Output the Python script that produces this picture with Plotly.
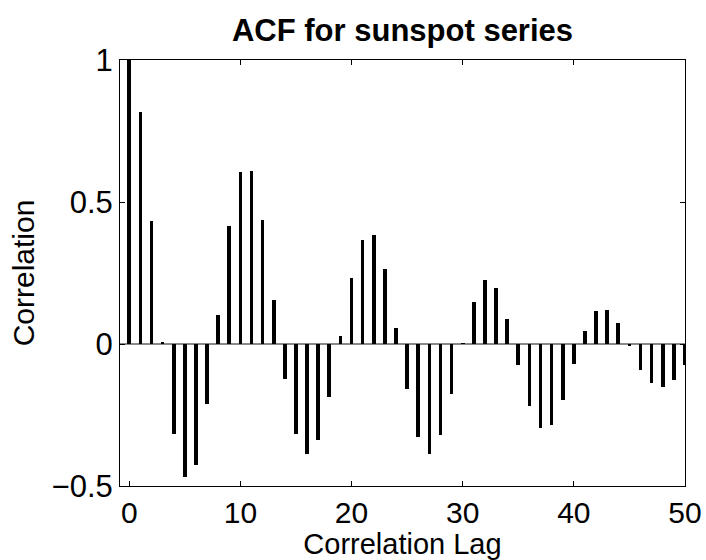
import plotly.graph_objects as go

lags = list(range(51))
acf = [1.0, 0.816, 0.432, 0.006, -0.317, -0.470, -0.427, -0.213, 0.102, 0.417,
       0.607, 0.609, 0.436, 0.155, -0.122, -0.318, -0.388, -0.338, -0.185, 0.028,
       0.232, 0.367, 0.384, 0.265, 0.055, -0.160, -0.327, -0.386, -0.320, -0.175,
       0.002, 0.149, 0.224, 0.198, 0.087, -0.073, -0.220, -0.296, -0.285, -0.196,
       -0.070, 0.046, 0.115, 0.121, 0.073, -0.008, -0.091, -0.137, -0.151, -0.127,
       -0.075]
x_ticks = [0, 10, 20, 30, 40, 50]
y_ticks = [-0.5, 0, 0.5, 1]
y_ticklabels = ["\u22120.5", "0", "0.5", "1"]

FONT = "Liberation Sans, Arial, Helvetica, sans-serif"

fig = go.Figure()
fig.add_trace(go.Bar(x=lags, y=acf, width=0.33, marker=dict(color="black", line=dict(width=0)),
                     showlegend=False, hoverinfo="x+y"))

fig.update_layout(
    width=706, height=560,
    margin=dict(l=120, r=21, t=60, b=74, pad=0),
    paper_bgcolor="white", plot_bgcolor="white",
    font=dict(family=FONT, size=30, color="black"),
    title=dict(text="<b>ACF for sunspot series</b>", x=(120 + 685) / 2 / 706, xanchor="center",
               y=1 - 30 / 560, yanchor="middle", yref="container",
               font=dict(family=FONT, size=31, color="black")),
    bargap=0,
)
fig.update_xaxes(
    range=[-0.83, 50], tickvals=x_ticks, ticks="inside", ticklen=5, tickwidth=1,
    tickcolor="black", showline=True, linecolor="black", linewidth=1, mirror="ticks",
    showgrid=False, zeroline=False, automargin=False,
    tickfont=dict(family=FONT, size=30),
    title=dict(text="Correlation Lag", font=dict(family=FONT, size=29), standoff=4),
)
fig.update_yaxes(
    range=[-0.5, 1], tickvals=y_ticks, ticktext=y_ticklabels, ticks="inside", ticklen=5,
    tickwidth=1, tickcolor="black", showline=True, linecolor="black", linewidth=1,
    mirror="ticks", showgrid=False, automargin=False,
    zeroline=True, zerolinecolor="#8a8a8a", zerolinewidth=1.5,
    tickfont=dict(family=FONT, size=31),
    title=dict(text="Correlation", font=dict(family=FONT, size=30), standoff=8),
)

fig.write_html("out.html")
